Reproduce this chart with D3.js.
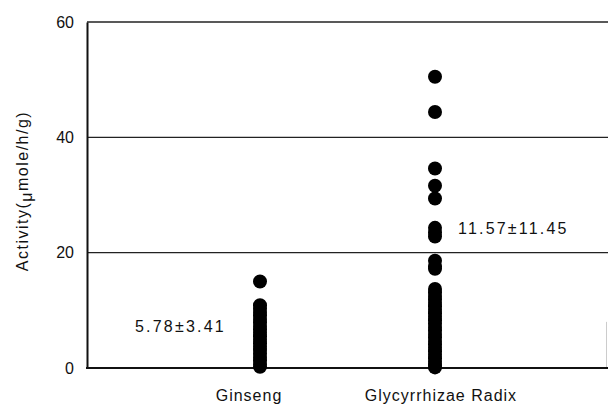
<!DOCTYPE html>
<html>
<head>
<meta charset="utf-8">
<script src="https://cdn.jsdelivr.net/npm/d3@7"></script>
<style>
body { margin: 0; background: #fff; }
text { font-family: "Liberation Sans", Arial, sans-serif; fill: #111; }
</style>
</head>
<body>
<div id="chart"></div>
<script>
// data
const categories = ["Ginseng", "Glycyrrhizae Radix"]
const ginsengValues = [15.0, 10.9, 10.3, 9.7, 9.1, 8.5, 7.9, 7.3, 6.7, 6.1, 5.5, 4.9, 4.3, 3.7, 3.1, 2.5, 1.9, 1.3, 0.7, 0.2]
const glycyrrhizaeValues = [50.5, 44.4, 34.6, 31.6, 29.4, 24.3, 23.5, 22.8, 18.6, 17.6, 17.2,
  13.7, 13.1, 12.5, 11.9, 11.3, 10.7, 10.1, 9.5, 8.9, 8.3, 7.7, 7.1, 6.5, 5.9, 5.3, 4.7, 4.1, 3.5, 2.9, 2.3, 1.7, 1.1, 0.5, 0.1]
const yTicks = [0, 20, 40, 60]
const annotations = [
  { cat: "Ginseng", text: "5.78\u00b13.41", value: 7.3 },
  { cat: "Glycyrrhizae Radix", text: "11.57\u00b111.45", value: 24.2 }
]

// const
const width = 608
const height = 406
const margin = { top: 22, bottom: 38, left: 87, right: 1 }

const svg = d3.select("#chart")
  .append("svg")
    .attr("width", width)
    .attr("height", height)

const y = d3.scaleLinear()
  .domain([0, 60])
  .range([height - margin.bottom, margin.top])

// category positions
const x = d3.scalePoint()
  .domain(categories)
  .range([260, 435])

// gridlines + frame
svg.append("g")
  .selectAll("line")
  .data(yTicks.filter(d => d > 0))
  .join("line")
    .attr("x1", margin.left)
    .attr("x2", width)
    .attr("y1", d => y(d))
    .attr("y2", d => y(d))
    .attr("stroke", "#222")
    .attr("stroke-width", d => d == 60 ? 1.6 : 1.2)

svg.append("line")
  .attr("x1", width - 1.5).attr("x2", width - 1.5)
  .attr("y1", y(8)).attr("y2", y(0))
  .attr("stroke", "#ccc").attr("stroke-width", 1)

// y axis
const yAxis = d3.axisLeft(y).tickValues(yTicks).tickSize(0).tickPadding(13)
const yAxisGroup = svg.append("g")
  .attr("transform", `translate(${margin.left},0)`)
  .call(yAxis)
yAxisGroup.select(".domain").attr("stroke", "#111").attr("stroke-width", 2)
yAxisGroup.selectAll("text")
  .style("font-size", "16px")
  .style("font-family", "'Liberation Sans', Arial, sans-serif")
  .attr("fill", "#111")

// bottom axis line
svg.append("line")
  .attr("x1", margin.left - 1)
  .attr("x2", width)
  .attr("y1", y(0))
  .attr("y2", y(0))
  .attr("stroke", "#111")
  .attr("stroke-width", 2)

// category labels
svg.append("g")
  .selectAll("text")
  .data(categories)
  .join("text")
    .attr("x", d => x(d) + (d == "Ginseng" ? -11 : 6))
    .attr("y", height - 5)
    .attr("text-anchor", "middle")
    .style("font-size", "16px")
    .style("letter-spacing", "1px")
    .text(d => d)

// y label
const yLabel = svg.append("text")
  .attr("transform", `translate(28,${(y(0) + y(60)) / 2 - 4}) rotate(-90)`)
  .attr("text-anchor", "middle")
  .style("font-size", "16px")
  .style("letter-spacing", "1.5px")
yLabel.append("tspan").text("Activity(")
yLabel.append("tspan").attr("dy", 4).text("\u03bc")
yLabel.append("tspan").attr("dy", -4).text("mole/h/g)")

// dots
const series = [
  { cat: "Ginseng", values: ginsengValues },
  { cat: "Glycyrrhizae Radix", values: glycyrrhizaeValues }
]
series.forEach(s => {
  svg.append("g")
    .selectAll("circle")
    .data(s.values)
    .join("circle")
      .attr("cx", x(s.cat))
      .attr("cy", d => y(d))
      .attr("r", 7)
      .attr("fill", "#000")
})

// mean ± sd labels
svg.append("g")
  .selectAll("text")
  .data(annotations)
  .join("text")
    .attr("x", d => d.cat == "Ginseng" ? 135 : x(d.cat) + 23)
    .attr("y", d => y(d.value))
    .attr("dy", "0.35em")
    .style("font-size", "16px")
    .style("letter-spacing", "2.2px")
    .text(d => d.text)
</script>
</body>
</html>
